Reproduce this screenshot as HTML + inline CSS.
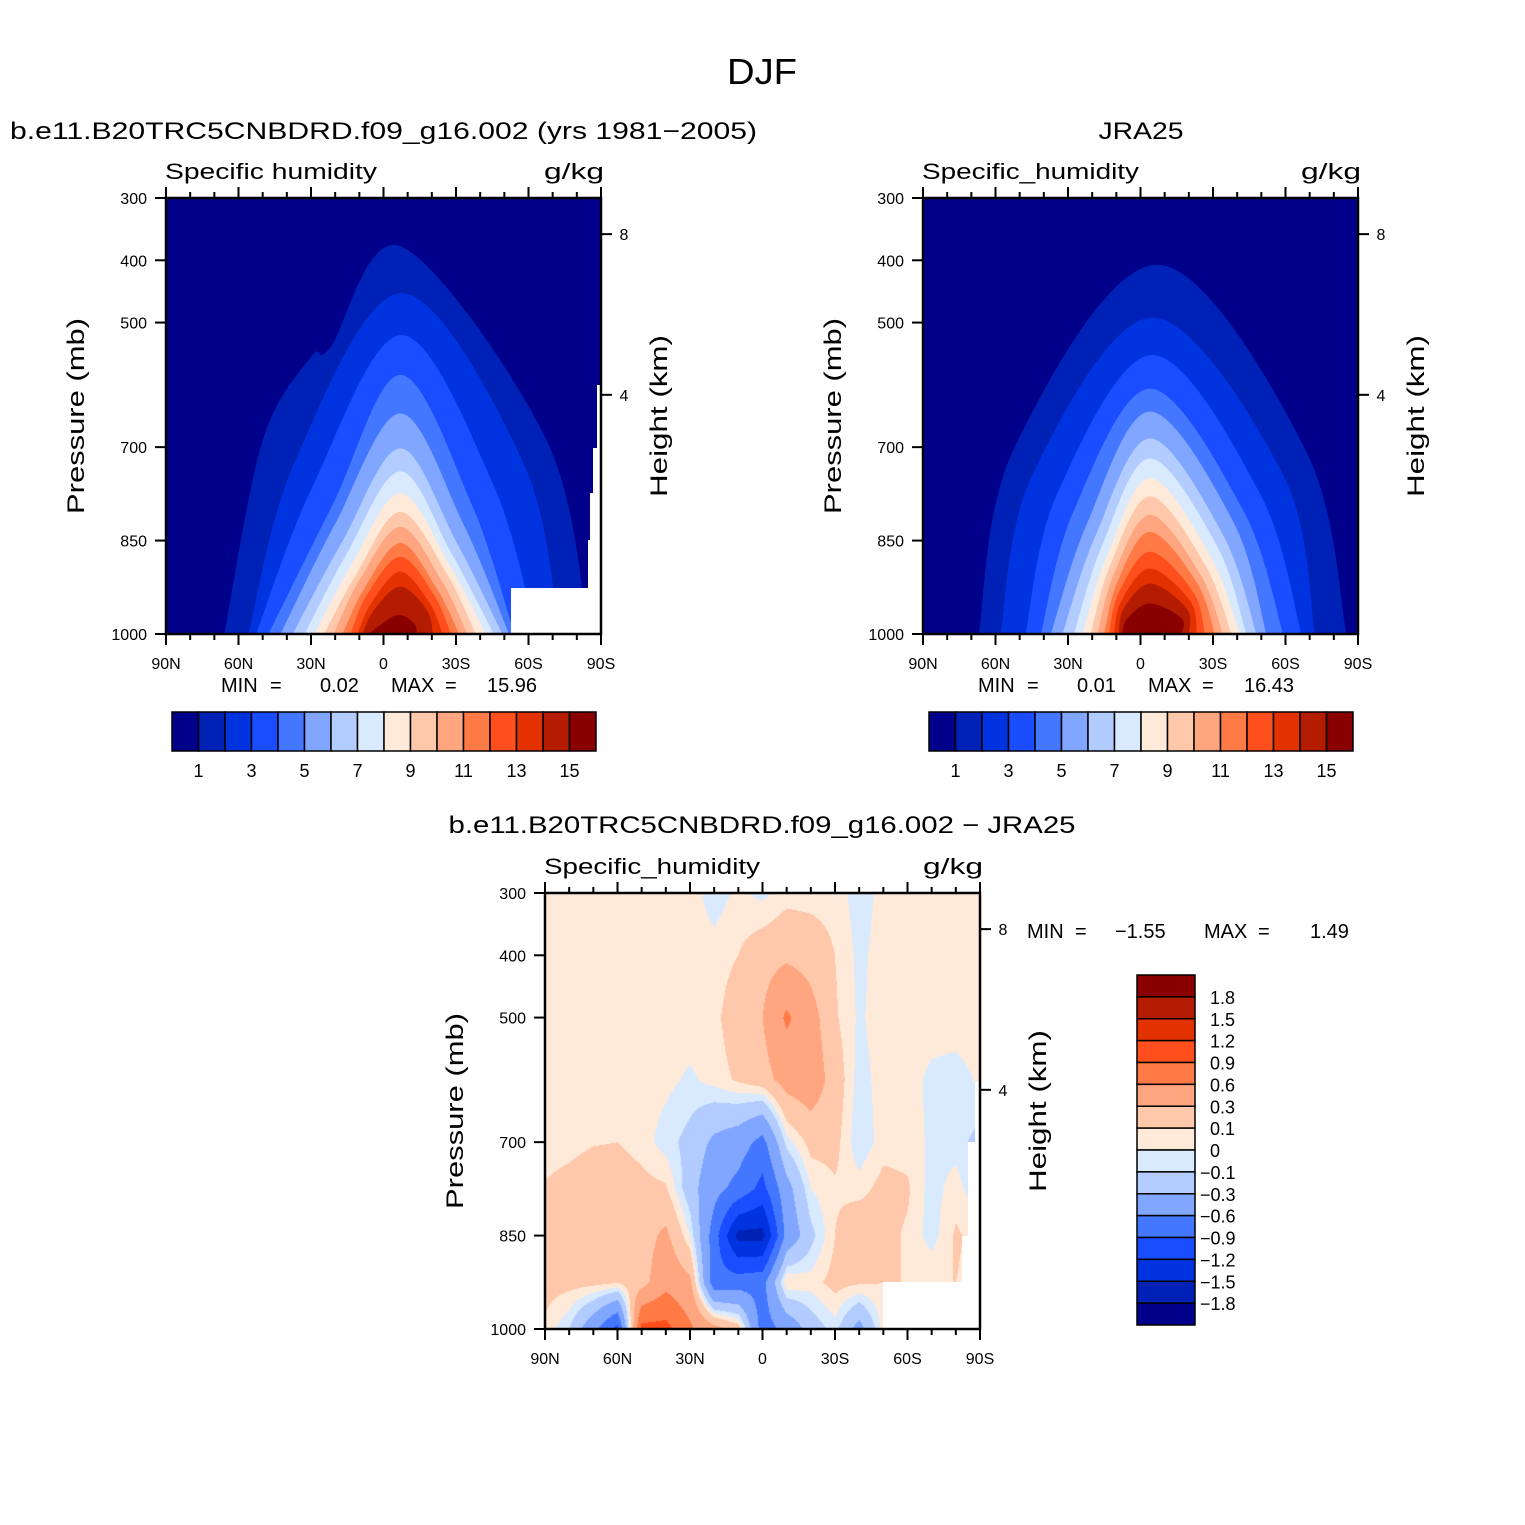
<!DOCTYPE html>
<html><head><meta charset="utf-8"><style>
html,body{margin:0;padding:0;background:#fff;}
#wrap{position:relative;width:1525px;height:1525px;overflow:hidden;background:#fff;}
#c3{position:absolute;left:545px;top:893px;}
#svg{position:absolute;left:0;top:0;}
text{font-family:"Liberation Sans",Arial,sans-serif;fill:#000;}
</style></head><body>
<div id="wrap">
<canvas id="c3" width="435" height="436"></canvas>
<svg id="svg" width="1525" height="1525" xmlns="http://www.w3.org/2000/svg"></svg>
</div>
<script>
// ---------- Data ----------
const levelColors = ['#00008a','#0021b5','#0033e0','#1a4dff','#4477ff','#80a6ff','#b3ccff','#d9eaff','#ffead9','#ffc8ab','#ffa680','#ff7a45','#ff4f1c','#e33200','#b31c00','#8a0000'];
const qLevelLabels = ['1','3','5','7','9','11','13','15'];
const diffLevels = [-1.8,-1.5,-1.2,-0.9,-0.6,-0.3,-0.1,0,0.1,0.3,0.6,0.9,1.2,1.5,1.8];
const diffLevelLabels = ['1.8','1.5','1.2','0.9','0.6','0.3','0.1','0','\u22120.1','\u22120.3','\u22120.6','\u22120.9','\u22121.2','\u22121.5','\u22121.8'];
const latTickLabels = ['90N','60N','30N','0','30S','60S','90S'];
const latTicks = [90,60,30,0,-30,-60,-90];
const presTicks = [300,400,500,700,850,1000];
const heightTickLabels = ['8','4'];
const heightTickPres = [358,616];

// Model panel contours (levels 1..15 g/kg)
const modelTopP    = [378,453,520,584,646,702,739,774,804,828,854,876,900,924,969];
const modelTopLat  = [-7.5,-7.5,-7.5,-7,-7,-7,-7,-7,-7,-7,-7,-7,-7,-7,-6.6];
const modelLeftBot = [66,56,53,48,43,38,33,29,25,21,17.3,13.9,11.1,9,7];
const modelLeftMid = [50,37,29,21,20,17,15,13,11,10,8,7,5,4,1];
const modelRightMid= [-67.5,-58,-45.4,-36.5,-33,-30,-28,-27,-26,-24,-22,-21,-19,-18,-13];
const modelRightBot= [-85,-73,-63.4,-54.4,-52.3,-49.6,-46.1,-42.7,-38.6,-35.1,-31.7,-28.2,-24.8,-20.6,-13.7];
// shoulder of outermost contour (lat, pressure)
const modelShoulderLat = [30, 22];
const modelShoulderP   = [555, 540];

// JRA25 panel
const obsTopP    = [407,492,552,606,643,686,718,750,779,809,836,868,895,919,951];
const obsTopLat  = [-6.8,-5,-5,-4,-4,-4,-4,-4,-4,-4,-4,-4,-4,-4,-4];
const obsLeftBot = [67,58,47.7,41.4,37.3,32.5,27.7,24.2,20.8,18,15.2,13.2,11.1,9,7.7];
const obsLeftMid = [52.5,44.9,34.6,27.7,22,18.7,16,13.9,12.5,11.1,9.7,9,8,7,5.6];
const obsRightMid= [-68.2,-59.2,-49.6,-42.7,-38.6,-34.4,-31.7,-28.9,-26.8,-24.8,-23.4,-22,-20.6,-19.2,-17.2];
const obsRightBot= [-85.4,-72.3,-66.8,-59.2,-52.3,-48.2,-44,-41.3,-37.9,-34.4,-31,-26.8,-23.4,-20,-16.5];

// Difference grid (model - JRA25)
const diffLats = [90,80,70,60,50,40,30,20,10,0,-10,-20,-30,-40,-50,-60,-70,-80,-90];
const diffPres = [1000,925,850,775,700,600,500,400,300];
const d1000 = [0.08,-0.1,-0.5,-1.0,1.0,1.0,0.65,0.4,0.2,-0.75,-0.5,-0.2,-0.05,-0.4,0.05,0.05,0.05,0.05,0.05];
const d925  = [0.15,0.15,0.15,0.12,0.2,0.5,0.35,-0.8,-0.75,-0.7,0.1,0.05,0.15,0.12,0.1,0.1,0.1,0.1,0.05];
const d850  = [0.15,0.2,0.2,0.2,0.2,0.35,0.0,-0.75,-1.6,-1.6,-0.5,-0.15,0.1,0.25,0.15,0.08,-0.05,0.12,0.05];
const d775  = [0.11,0.15,0.2,0.2,0.15,0.12,-0.2,-0.5,-0.7,-1.0,-0.4,0.0,0.08,0.05,0.15,0.12,-0.05,0.05,-0.1];
const d700  = [0.05,0.06,0.09,0.1,0.05,-0.05,-0.15,-0.35,-0.45,-0.7,-0.05,0.15,0.15,-0.08,0.05,0.05,-0.02,-0.05,-0.15];
const d600  = [0.05,0.05,0.05,0.05,0.05,0.03,-0.02,0.04,0.12,0.2,0.4,0.45,0.2,-0.05,0.05,0.05,-0.03,-0.05,0.02];
const d500  = [0.06,0.06,0.06,0.06,0.06,0.06,0.06,0.06,0.2,0.3,0.65,0.4,0.12,-0.02,0.06,0.06,0.06,0.06,0.06];
const d400  = [0.05,0.05,0.05,0.05,0.05,0.05,0.05,0.04,0.1,0.2,0.25,0.2,0.1,-0.03,0.05,0.05,0.05,0.05,0.05];
const d300  = [0.05,0.05,0.05,0.05,0.05,0.05,0.05,-0.05,0.02,-0.03,0.05,0.05,0.05,-0.05,0.03,0.05,0.05,0.05,0.05];
const diffRows = [d1000,d925,d850,d775,d700,d600,d500,d400,d300];

// ---------- Helpers ----------
const NS='http://www.w3.org/2000/svg';
const svg=document.getElementById('svg');
function mk(tag,attrs,parent){const e=document.createElementNS(NS,tag);for(const k in attrs)e.setAttribute(k,attrs[k]);(parent||svg).appendChild(e);return e;}
function txt(s,x,y,size,anchor,parent,extra,len){
  const a=Object.assign({x:x,y:y,'font-size':size,'text-anchor':anchor||'start'},extra||{});
  if(len){a.textLength=len;a.lengthAdjust='spacingAndGlyphs';}
  const t=mk('text',a,parent);t.textContent=s;return t;}
function axes(x0,y0){
  const W=435,H=436;
  return {x0:x0,y0:y0,W:W,H:H,X:lat=>x0+(90-lat)/180*W,Y:p=>y0+(p-300)/700*H};
}
function crPath(pts){
  let d='M'+pts[0][0]+','+pts[0][1];
  for(let i=0;i<pts.length-1;i++){
    const p0=pts[Math.max(0,i-1)],p1=pts[i],p2=pts[i+1],p3=pts[Math.min(pts.length-1,i+2)];
    const c1=[p1[0]+(p2[0]-p0[0])/6,p1[1]+(p2[1]-p0[1])/6];
    const c2=[p2[0]-(p3[0]-p1[0])/6,p2[1]-(p3[1]-p1[1])/6];
    d+=' C'+c1[0]+','+c1[1]+' '+c2[0]+','+c2[1]+' '+p2[0]+','+p2[1];
  }
  return d;
}

function drawFrame(ax,g,unitsLeft,unitsRight,varLen){
  for(let lat=90;lat>=-90;lat-=10){
    const major=(lat%30===0);
    const x=ax.X(lat),L=major?11:6;
    const tt=mk('line',{x1:x,y1:ax.y0,x2:x,y2:ax.y0-L,stroke:'#000','stroke-width':2},g);
    
    
    const tb=mk('line',{x1:x,y1:ax.y0+ax.H,x2:x,y2:ax.y0+ax.H+L,stroke:'#000','stroke-width':2},g);
    
    
  }
  latTicks.forEach((lat,i)=>{
    const t=txt(latTickLabels[i],ax.X(lat),ax.y0+ax.H+35,16,'middle',g);
    
    
  });
  presTicks.forEach(p=>{
    const y=ax.Y(p);
    const l=mk('line',{x1:ax.x0-11,y1:y,x2:ax.x0,y2:y,stroke:'#000','stroke-width':2},g);
    
    
    const t=txt(String(p),ax.x0-19,y+6,16,'end',g);
    
    
  });
  heightTickPres.forEach((p,i)=>{
    const y=ax.Y(p);
    const l=mk('line',{x1:ax.x0+ax.W,y1:y,x2:ax.x0+ax.W+11,y2:y,stroke:'#000','stroke-width':2},g);
    
    
    const t=txt(heightTickLabels[i],ax.x0+ax.W+23,y+6,16,'middle',g);
    
    
  });
  const fr=mk('rect',{x:ax.x0,y:ax.y0,width:ax.W,height:ax.H,fill:'none',stroke:'#000','stroke-width':2.5},g);
  
  
  const yl=txt('Pressure (mb)',0,0,24,'middle',g,{transform:'translate('+(ax.x0-82)+','+(ax.y0+218)+') rotate(-90)'},196);
  
  
  const hl=txt('Height (km)',0,0,24,'middle',g,{transform:'translate('+(ax.x0+ax.W+66)+','+(ax.y0+218)+') rotate(-90)'},162);
  
  
  const vl=txt(unitsLeft,ax.x0-1,ax.y0-19,22,'start',g,null,varLen);
  
  
  const ul=txt(unitsRight,ax.x0+ax.W-57,ax.y0-19,22,'start',g,null,60);
  
  
}

function drawQPanel(ax,name,topP,topLat,lb,lm,rm,rb,clipId,shLat,shP){
  const g=mk('g',{});
  
  
  const cp=mk('clipPath',{id:clipId},g);
  mk('rect',{x:ax.x0,y:ax.y0,width:ax.W,height:ax.H},cp);
  const fg=mk('g',{'clip-path':'url(#'+clipId+')'},g);
  const bg=mk('rect',{x:ax.x0,y:ax.y0,width:ax.W,height:ax.H,fill:levelColors[0]},fg);
  
  
  for(let k=0;k<topP.length;k++){
    const pm=(topP[k]+1000)/2;
    const pts=[[ax.X(lb[k]),ax.Y(1000)+2],[ax.X(lm[k]),ax.Y(pm)]];
    if(k===0 && shLat){for(let s=0;s<shLat.length;s++)pts.push([ax.X(shLat[s]),ax.Y(shP[s])]);}
    pts.push([ax.X(topLat[k]),ax.Y(topP[k])],[ax.X(rm[k]),ax.Y(pm)],[ax.X(rb[k]),ax.Y(1000)+2]);
    const path=mk('path',{d:crPath(pts)+' Z',fill:levelColors[k+1]},fg);
    
    
  }
  return g;
}

// ---------- Titles ----------
let t=txt('DJF',762,84,36,'middle',null,null,70);


t=txt('b.e11.B20TRC5CNBDRD.f09_g16.002 (yrs 1981\u22122005)',10,139,24,'start',null,null,747);


t=txt('JRA25',1141,139,24,'middle',null,null,85);


t=txt('b.e11.B20TRC5CNBDRD.f09_g16.002 \u2212 JRA25',762,833,24,'middle',null,null,627);



// ---------- Panel 1 ----------
const ax1=axes(166,198);
const g1=drawQPanel(ax1,'model-humidity-plot',modelTopP,modelTopLat,modelLeftBot,modelLeftMid,modelRightMid,modelRightBot,'clip1',modelShoulderLat,modelShoulderP);
let w=mk('polygon',{points:'511,588 588,588 588,540 590,540 590,493 593,493 593,448 597,448 597,385 601,385 601,634 511,634',fill:'#fff'},g1);


drawFrame(ax1,g1,'Specific humidity','g/kg',212);

// ---------- Panel 2 ----------
const ax2=axes(923,198);
const g2=drawQPanel(ax2,'jra25-humidity-plot',obsTopP,obsTopLat,obsLeftBot,obsLeftMid,obsRightMid,obsRightBot,'clip2');
drawFrame(ax2,g2,'Specific_humidity','g/kg',217);

function minmax(xs,y,vals,name){
  const g=mk('g',{});
  
  
  const s=['MIN','=',vals[0],'MAX','=',vals[1]];
  s.forEach((v,i)=>{txt(v,xs[i],y,20,'start',g);});
}
minmax([221,270,320,391,445,487],692,['0.02','15.96'],'model-min-max');
minmax([978,1027,1077,1148,1202,1244],692,['0.01','16.43'],'obs-min-max');
minmax([1027,1075,1115,1204,1258,1310],938,['\u22121.55','1.49'],'diff-min-max');

function hbar(x0,name){
  const g=mk('g',{});
  
  
  const bw=(596-172)/16;
  levelColors.forEach((c,i)=>{
    const r=mk('rect',{x:x0+i*bw,y:712,width:bw,height:39,fill:c,stroke:'#000','stroke-width':1.5},g);
    
    
  });
  qLevelLabels.forEach((s,i)=>{
    const tt=txt(s,x0+(1+2*i)*bw,777,18,'middle',g);
    
    
  });
}
hbar(172,'model-colorbar');
hbar(929,'obs-colorbar');

// ---------- Panel 3 ----------
const ax3=axes(545,893);
(function(){
  const cv=document.getElementById('c3');const ctx=cv.getContext('2d');
  const img=ctx.createImageData(435,436);
  const rgb=levelColors.map(h=>[parseInt(h.substr(1,2),16),parseInt(h.substr(3,2),16),parseInt(h.substr(5,2),16)]);
  for(let py=0;py<436;py++){
    const p=300+(py+0.5)/436*700;
    let j=0;while(j<diffPres.length-2 && p<diffPres[j+1])j++;
    const tp=(diffPres[j]-p)/(diffPres[j]-diffPres[j+1]);
    for(let px=0;px<435;px++){
      const lat=90-(px+0.5)/435*180;
      let fi=(90-lat)/10;let i=Math.min(17,Math.floor(fi));const tl=fi-i;
      const a=diffRows[j][i]*(1-tl)+diffRows[j][i+1]*tl;
      const b=diffRows[j+1][i]*(1-tl)+diffRows[j+1][i+1]*tl;
      const v=a*(1-tp)+b*tp;
      let k=0;while(k<diffLevels.length && v>=diffLevels[k])k++;
      const c=rgb[k];const o=(py*435+px)*4;
      img.data[o]=c[0];img.data[o+1]=c[1];img.data[o+2]=c[2];img.data[o+3]=255;
    }
  }
  ctx.putImageData(img,0,0);
})();
const g3=mk('g',{});


w=mk('polygon',{points:'883,1282 962,1282 962,1236 968,1236 968,1142 975,1142 975,1082 980,1082 980,1329 883,1329',fill:'#fff'},g3);


drawFrame(ax3,g3,'Specific_humidity','g/kg',216);

(function(){
  const g=mk('g',{});
  
  
  const bh=(1325-975)/16;
  for(let i=0;i<16;i++){
    const r=mk('rect',{x:1137,y:975+i*bh,width:58,height:bh,fill:levelColors[15-i],stroke:'#000','stroke-width':1.5},g);
    
    
  }
  diffLevelLabels.forEach((s,i)=>{
    const tt=txt(s,s.charAt(0)==='\u2212'?1200:1210,975+(i+1)*bh+7,18,'start',g);
    
    
  });
})();
</script>
</body></html>
